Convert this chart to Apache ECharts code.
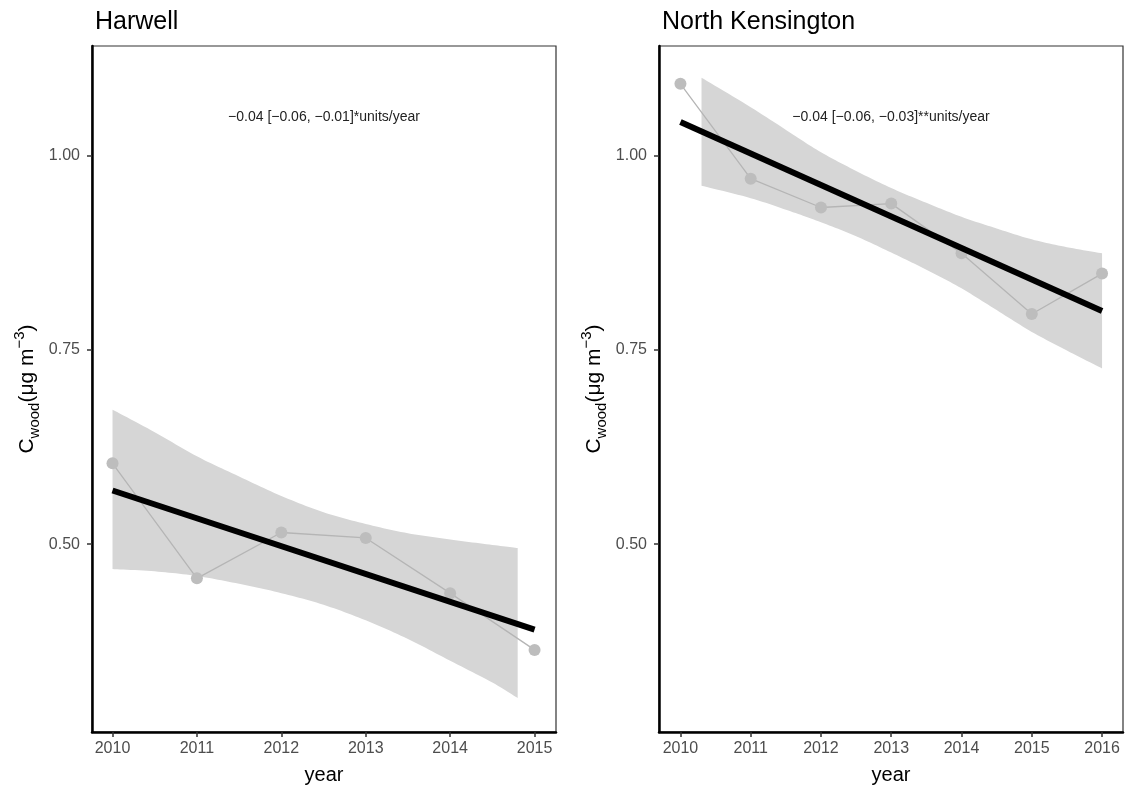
<!DOCTYPE html>
<html>
<head>
<meta charset="utf-8">
<script src="https://cdn.jsdelivr.net/npm/echarts@6/dist/echarts.min.js"></script>
<style>
html,body{margin:0;padding:0;background:#fff;}
#chart{width:1132px;height:786px;}
</style>
</head>
<body>
<div id="chart"></div>
<script>
// ---------- Data ----------
const panelTitles = ['Harwell', 'North Kensington'];
const annotations = ['\u22120.04 [\u22120.06, \u22120.01]*units/year', '\u22120.04 [\u22120.06, \u22120.03]**units/year'];
const yTicks = [0.50, 0.75, 1.00];

const harwellYears = [2010, 2011, 2012, 2013, 2014, 2015];
const harwellValues = [0.604, 0.456, 0.515, 0.508, 0.437, 0.364];
const harwellTrendYears = [2010, 2015];
const harwellTrendValues = [0.569, 0.390];
const harwellBandYears = [2010, 2010.5, 2011, 2011.5, 2012, 2012.5, 2013, 2013.5, 2014, 2014.5, 2014.8];
const harwellBandUpper = [0.673, 0.644, 0.613, 0.587, 0.562, 0.541, 0.526, 0.514, 0.506, 0.499, 0.495];
const harwellBandLower = [0.468, 0.465, 0.459, 0.449, 0.437, 0.422, 0.402, 0.378, 0.350, 0.322, 0.302];

const nkYears = [2010, 2011, 2012, 2013, 2014, 2015, 2016];
const nkValues = [1.092, 0.970, 0.933, 0.938, 0.874, 0.796, 0.848];
const nkTrendYears = [2010, 2016];
const nkTrendValues = [1.043, 0.800];
const nkBandYears = [2010.3, 2011, 2011.6, 2012, 2012.5, 2013, 2013.5, 2014, 2014.5, 2015, 2015.5, 2016];
const nkBandUpper = [1.100, 1.062, 1.027, 1.004, 0.980, 0.958, 0.939, 0.921, 0.906, 0.892, 0.882, 0.874];
const nkBandLower = [0.961, 0.945, 0.927, 0.914, 0.896, 0.875, 0.853, 0.829, 0.801, 0.773, 0.749, 0.726];

// ---------- Helpers ----------
const FONT = 'Liberation Sans, Arial, sans-serif';
const zip = (a, b) => a.map((v, i) => [v, b[i]]);

// Catmull-Rom smoothing of an edge in pixel space (rendering only)
function smoothEdge(pts) {
  const out = [];
  const n = pts.length;
  const STEPS = 12;
  for (let i = 0; i < n - 1; i++) {
    const p0 = pts[Math.max(i - 1, 0)], p1 = pts[i], p2 = pts[i + 1], p3 = pts[Math.min(i + 2, n - 1)];
    for (let s = 0; s < STEPS; s++) {
      const t = s / STEPS, t2 = t * t, t3 = t2 * t;
      const f = k => 0.5 * ((2 * p1[k]) + (-p0[k] + p2[k]) * t + (2 * p0[k] - 5 * p1[k] + 4 * p2[k] - p3[k]) * t2 + (-p0[k] + 3 * p1[k] - 3 * p2[k] + p3[k]) * t3);
      out.push([f(0), f(1)]);
    }
  }
  out.push(pts[n - 1]);
  return out;
}

function bandSeries(idx, xs, lo, hi) {
  return {
    type: 'custom', xAxisIndex: idx, yAxisIndex: idx, z: 1, silent: true,
    data: xs.map((x, i) => [x, lo[i], hi[i]]),
    encode: { x: 0, y: [1, 2] },
    renderItem: function (params, api) {
      if (params.dataIndex !== 0) return null;
      const up = smoothEdge(xs.map((x, i) => api.coord([x, hi[i]])));
      const dn = smoothEdge(xs.map((x, i) => api.coord([x, lo[i]])));
      const pts = up.concat(dn.reverse());
      return { type: 'polygon', shape: { points: pts }, style: { fill: '#D6D6D6', stroke: null } };
    }
  };
}
function pointSeries(idx, xs, ys) {
  return {
    type: 'line', xAxisIndex: idx, yAxisIndex: idx, z: 2, silent: true,
    data: zip(xs, ys), symbol: 'circle', symbolSize: 12, showSymbol: true,
    itemStyle: { color: '#BDBDBD' },
    lineStyle: { color: '#B5B5B5', width: 1.3 }
  };
}
function trendSeries(idx, xs, ys) {
  return {
    type: 'line', xAxisIndex: idx, yAxisIndex: idx, z: 3, silent: true,
    data: zip(xs, ys), symbol: 'none',
    lineStyle: { color: '#000', width: 6, cap: 'butt' }
  };
}
function xAxis(idx, ticks, min, max) {
  return {
    type: 'value', gridIndex: idx, min: min, max: max,
    name: 'year', nameLocation: 'middle', nameGap: 33,
    nameTextStyle: { fontFamily: FONT, fontSize: 20, color: '#000' },
    splitLine: { show: false },
    axisLine: { show: true, onZero: false, lineStyle: { color: '#000', width: 2.5 } },
    axisTick: { show: true, length: 5, customValues: ticks, lineStyle: { color: '#333', width: 1.5 } },
    axisLabel: { customValues: ticks, margin: 9, fontFamily: FONT, fontSize: 16, color: '#4D4D4D', formatter: v => String(v) }
  };
}
function yAxis(idx) {
  return {
    type: 'value', gridIndex: idx, min: 0.2584, max: 1.1407,
    name: '{m|C}{sub|wood}{m|(\u03bcg m}{sup|\u22123}{m|)}',
    nameLocation: 'middle', nameGap: 50, nameRotate: 90,
    nameTextStyle: {
      fontFamily: FONT, fontSize: 21, color: '#000',
      rich: {
        m: { fontFamily: FONT, fontSize: 21, color: '#000', lineHeight: 30 },
        sub: { fontFamily: FONT, fontSize: 15, color: '#000', lineHeight: 18, verticalAlign: 'bottom' },
        sup: { fontFamily: FONT, fontSize: 15, color: '#000', lineHeight: 14, verticalAlign: 'top' }
      }
    },
    splitLine: { show: false },
    axisLine: { show: true, onZero: false, lineStyle: { color: '#000', width: 2.5 } },
    axisTick: { show: true, length: 5, customValues: yTicks, lineStyle: { color: '#333', width: 1.5 } },
    axisLabel: { customValues: yTicks, margin: 12, fontFamily: FONT, fontSize: 16, color: '#4D4D4D', formatter: v => v.toFixed(2) }
  };
}

const grids = [
  { left: 92, top: 46, width: 464, height: 686 },
  { left: 659, top: 46, width: 464, height: 686 }
];

const option = {
  animation: false,
  backgroundColor: '#fff',
  grid: grids.map(g => Object.assign({
    show: true, borderColor: '#333', borderWidth: 1.2, backgroundColor: 'transparent',
    containLabel: false, outerBoundsMode: 'none'
  }, g)),
  title: panelTitles.map((t, i) => ({
    text: t, left: grids[i].left - 2, top: 5,
    textStyle: { fontFamily: FONT, fontSize: 25, fontWeight: 'normal', color: '#000' }
  })),
  graphic: annotations.map((t, i) => ({
    type: 'text', x: grids[i].left + grids[i].width / 2, y: 117, z: 10,
    style: { text: t, align: 'center', verticalAlign: 'middle', fontFamily: FONT, fontSize: 14, fill: '#222' }
  })),
  xAxis: [
    xAxis(0, harwellYears, 2009.757, 2015.254),
    xAxis(1, nkYears, 2009.695, 2016.298)
  ],
  yAxis: [yAxis(0), yAxis(1)],
  series: [
    bandSeries(0, harwellBandYears, harwellBandLower, harwellBandUpper),
    pointSeries(0, harwellYears, harwellValues),
    trendSeries(0, harwellTrendYears, harwellTrendValues),
    bandSeries(1, nkBandYears, nkBandLower, nkBandUpper),
    pointSeries(1, nkYears, nkValues),
    trendSeries(1, nkTrendYears, nkTrendValues)
  ]
};

echarts.init(document.getElementById('chart'), null, { renderer: 'canvas' }).setOption(option);
</script>
</body>
</html>
